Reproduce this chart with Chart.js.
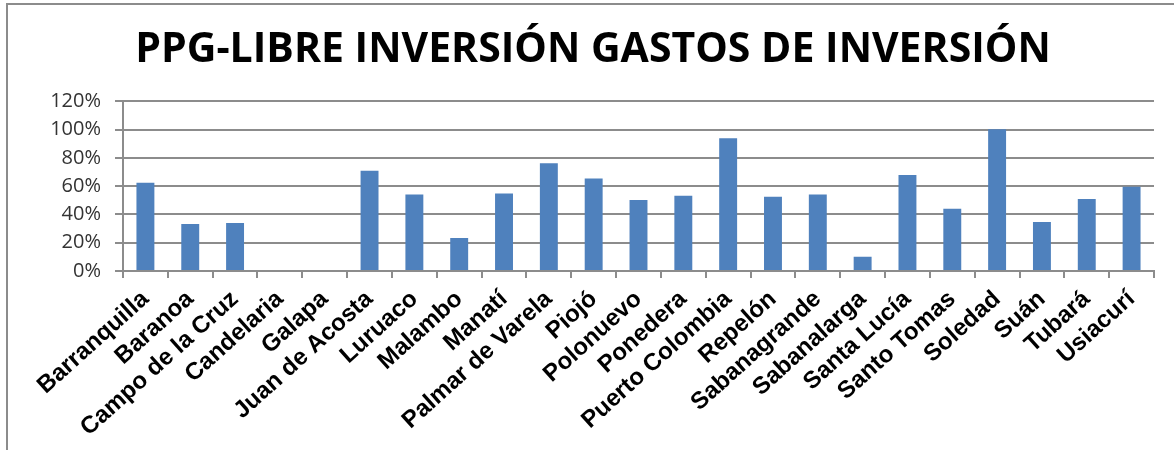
<!DOCTYPE html>
<html>
<head>
<meta charset="utf-8">
<script src="https://cdn.jsdelivr.net/npm/chart.js@4/dist/chart.umd.min.js"></script>
<style>
  html, body { margin: 0; padding: 0; background: #fff; }
  #wrap { width: 1174px; height: 450px; }
</style>
</head>
<body>
<div id="wrap"><canvas id="chart" width="1174" height="450"></canvas></div>
<script>
const titleText = 'PPG-LIBRE INVERSIÓN GASTOS DE INVERSIÓN';

const municipios = [
    'Barranquilla', 'Baranoa', 'Campo de la Cruz', 'Candelaria', 'Galapa',
    'Juan de Acosta', 'Luruaco', 'Malambo', 'Manatí', 'Palmar de Varela',
    'Piojó', 'Polonuevo', 'Ponedera', 'Puerto Colombia', 'Repelón',
    'Sabanagrande', 'Sabanalarga', 'Santa Lucía', 'Santo Tomas', 'Soledad',
    'Suán', 'Tubará', 'Usiacurí'
];

// porcentaje de ejecucion
const ejecucion = [
    62.3, 33.2, 33.9, 0, 0,
    70.9, 54.1, 23.3, 54.8, 76.2,
    65.4, 50.1, 53.2, 93.9, 52.5,
    54.1, 10.1, 67.8, 44.0, 100.2,
    34.6, 50.8, 59.5
];

const yTicks = [0, 20, 40, 60, 80, 100, 120];

const gridColor = '#8c8c8c';

// marco gris del grafico (solo arriba e izquierda quedan dentro del recorte)
const framePlugin = {
    id: 'frame',
    afterDraw: (chart) => {
        const { ctx } = chart;
        ctx.save();
        ctx.strokeStyle = '#8c8c8c';
        ctx.lineWidth = 2;
        ctx.beginPath();
        ctx.moveTo(7, 450);
        ctx.lineTo(7, 4);
        ctx.lineTo(1174, 4);
        ctx.stroke();
        ctx.restore();
    }
};

new Chart(document.getElementById('chart').getContext('2d'), {
    type: 'bar',
    data: {
        labels: municipios,
        datasets: [{
            data: ejecucion,
            backgroundColor: '#4F81BD',
            borderWidth: 0,
            barPercentage: 0.4,
            categoryPercentage: 1.0
        }]
    },
    options: {
        responsive: false,
        animation: false,
        // padding izquierdo para centrar el titulo como en el original
        layout: { padding: { top: 0, right: 20, bottom: 0, left: 32 } },
        plugins: {
            legend: { display: false },
            tooltip: { enabled: false },
            title: {
                display: true,
                text: titleText,
                color: '#000',
                font: { family: 'Open Sans', size: 41, weight: 'bold', lineHeight: 1.2 },
                padding: { top: 26, bottom: 26 }
            }
        },
        scales: {
            x: {
                grid: {
                    display: true,
                    offset: true,
                    drawOnChartArea: false,
                    drawTicks: true,
                    tickLength: 7,
                    color: gridColor,
                    lineWidth: 2
                },
                border: { display: true, color: gridColor, width: 2 },
                ticks: {
                    autoSkip: false,
                    maxRotation: 42,
                    minRotation: 42,
                    padding: 7,
                    color: '#000',
                    font: { family: 'Liberation Sans', size: 24, weight: 'bold' }
                },
                afterFit: (scale) => { scale.height = 179; }
            },
            y: {
                min: 0,
                max: 120,
                afterBuildTicks: (scale) => {
                    scale.ticks = yTicks.map(v => ({ value: v }));
                },
                grid: {
                    color: gridColor,
                    lineWidth: 2,
                    drawTicks: true,
                    tickLength: 8
                },
                border: { display: true, color: gridColor, width: 2 },
                ticks: {
                    padding: 14,
                    color: '#333',
                    font: { family: 'Open Sans', size: 20 },
                    callback: (v) => v + '%'
                },
                afterFit: (scale) => { scale.width = 91; }
            }
        }
    },
    plugins: [framePlugin]
});
</script>
</body>
</html>
